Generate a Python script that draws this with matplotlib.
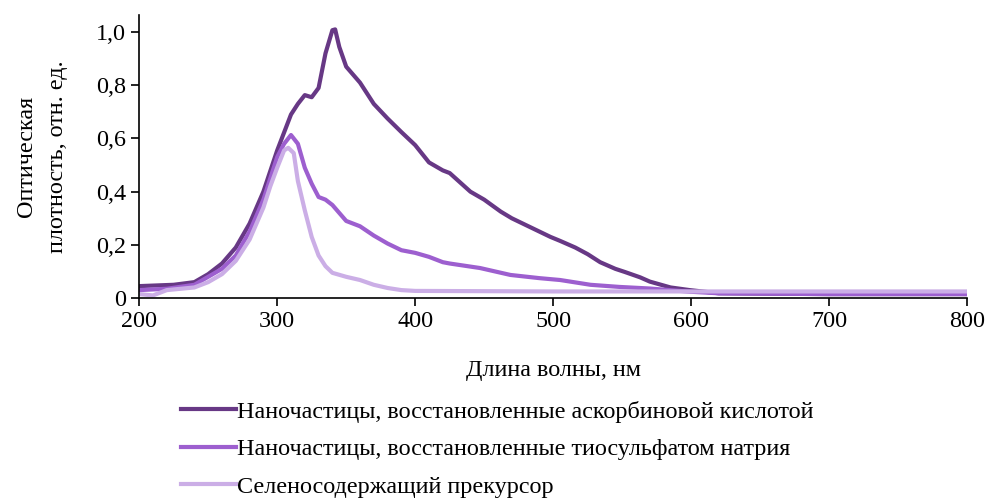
import matplotlib.pyplot as plt
import numpy as np

plt.rcParams['font.family'] = ['Liberation Serif', 'DejaVu Serif']

# wavelength, nm / optical density
x_asc = [200, 225, 240, 250, 260, 270, 280, 290, 300, 310, 315, 320, 325, 330, 335, 340, 342,
         345, 350, 360, 370, 380, 390, 400, 410, 420, 425, 440, 450, 462, 470, 480, 490,
         498, 505, 516, 525, 534, 545, 552, 563, 570, 585, 599, 620, 700, 800]
y_asc = [0.045, 0.05, 0.06, 0.09, 0.13, 0.19, 0.28, 0.40, 0.555, 0.69, 0.73, 0.763, 0.755,
         0.79, 0.92, 1.007, 1.01, 0.944, 0.87, 0.81, 0.73, 0.675, 0.624, 0.575, 0.51, 0.48,
         0.47, 0.40, 0.37, 0.325, 0.30, 0.275, 0.25, 0.23, 0.215, 0.19, 0.165, 0.135, 0.11,
         0.098, 0.078, 0.062, 0.04, 0.03, 0.018, 0.015, 0.015]

x_thio = [200, 220, 240, 260, 270, 280, 290, 300, 305, 310, 315, 320, 325, 330, 335, 340,
          345, 350, 360, 370, 380, 390, 400, 410, 420, 425, 447, 469, 490, 505, 527, 548,
          570, 599, 620, 700, 800]
y_thio = [0.03, 0.035, 0.05, 0.11, 0.16, 0.25, 0.37, 0.53, 0.58, 0.613, 0.58, 0.49, 0.43,
          0.38, 0.37, 0.35, 0.32, 0.29, 0.27, 0.235, 0.205, 0.18, 0.17, 0.155, 0.135, 0.13,
          0.113, 0.087, 0.075, 0.068, 0.05, 0.042, 0.036, 0.024, 0.018, 0.015, 0.015]

x_prec = [200, 210, 220, 240, 250, 260, 270, 280, 290, 295, 300, 305, 308, 312, 315, 320,
          325, 330, 335, 340, 350, 360, 370, 380, 390, 400, 500, 600, 700, 800]
y_prec = [0.015, 0.01, 0.03, 0.04, 0.06, 0.09, 0.14, 0.22, 0.34, 0.42, 0.49, 0.555, 0.565,
          0.545, 0.44, 0.33, 0.23, 0.16, 0.12, 0.095, 0.08, 0.068, 0.05, 0.038, 0.03, 0.027,
          0.025, 0.025, 0.025, 0.025]

labels = ['Наночастицы, восстановленные аскорбиновой кислотой',
          'Наночастицы, восстановленные тиосульфатом натрия',
          'Селеносодержащий прекурсор']
colors = ['#673885', '#9d5fcf', '#cbaee6']
fs = 17.4

fig = plt.figure(figsize=(9.87, 5.01), dpi=100)
ax = fig.add_axes([0.141, 0.405, 0.839, 0.565])

ax.plot(x_asc, y_asc, color=colors[0], lw=3, label=labels[0], solid_joinstyle='round')
ax.plot(x_thio, y_thio, color=colors[1], lw=3, label=labels[1], solid_joinstyle='round')
ax.plot(x_prec, y_prec, color=colors[2], lw=3, label=labels[2], solid_joinstyle='round')

ax.set_xlim(200, 800)
ax.set_ylim(0, 1.064)
ax.set_xticks(np.arange(200, 801, 100))
ax.set_yticks([0, 0.2, 0.4, 0.6, 0.8, 1.0])
ax.set_yticklabels(['0', '0,2', '0,4', '0,6', '0,8', '1,0'])
ax.tick_params(labelsize=fs, direction='out', length=6, width=1.2)
for s in ['top', 'right']:
    ax.spines[s].set_visible(False)
for s in ['left', 'bottom']:
    ax.spines[s].set_linewidth(1.2)

ax.set_xlabel('Длина волны, нм', fontsize=fs, labelpad=20)
ax.set_ylabel('Оптическая\nплотность, отн. ед.', fontsize=fs, labelpad=20, linespacing=1.6)

fig.legend(loc='upper left', bbox_to_anchor=(0.183, 0.2), frameon=False, fontsize=fs,
           handlelength=2.3, handletextpad=0.05, labelspacing=0.64, borderpad=0,
           borderaxespad=0)

fig.savefig('out.png', dpi=100)
